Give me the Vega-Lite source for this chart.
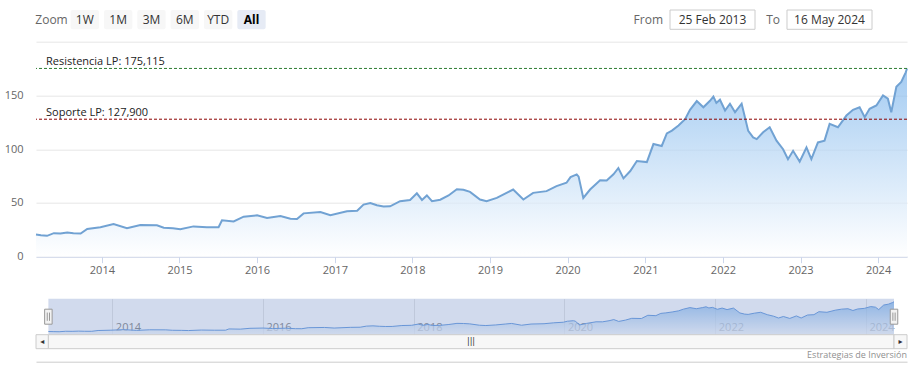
{
  "$schema": "https://vega.github.io/schema/vega-lite/v6.json",
  "padding": {"left": 4, "top": 9, "right": 7, "bottom": 5},
  "background": "white",
  "config": {"font": "Open Sans", "view": {"stroke": null}},
  "datasets": {
    "series": [
      {"date": "2013-02-25", "value": 20.6},
      {"date": "2013-03-20", "value": 20.0},
      {"date": "2013-04-18", "value": 19.4},
      {"date": "2013-05-20", "value": 21.9},
      {"date": "2013-06-20", "value": 21.5},
      {"date": "2013-07-22", "value": 22.6},
      {"date": "2013-08-20", "value": 21.8},
      {"date": "2013-09-23", "value": 21.6},
      {"date": "2013-10-24", "value": 25.8},
      {"date": "2013-12-25", "value": 27.4},
      {"date": "2014-02-25", "value": 30.3},
      {"date": "2014-04-29", "value": 26.4},
      {"date": "2014-07-01", "value": 29.5},
      {"date": "2014-09-17", "value": 29.2},
      {"date": "2014-10-19", "value": 27.0},
      {"date": "2014-12-01", "value": 26.5},
      {"date": "2015-01-05", "value": 25.5},
      {"date": "2015-03-08", "value": 28.2},
      {"date": "2015-05-10", "value": 27.3},
      {"date": "2015-07-04", "value": 27.4},
      {"date": "2015-07-20", "value": 33.9},
      {"date": "2015-09-13", "value": 32.8},
      {"date": "2015-10-30", "value": 37.2},
      {"date": "2016-01-01", "value": 38.5},
      {"date": "2016-02-17", "value": 36.0},
      {"date": "2016-04-20", "value": 37.8},
      {"date": "2016-06-06", "value": 35.3},
      {"date": "2016-07-07", "value": 35.0},
      {"date": "2016-08-07", "value": 40.3},
      {"date": "2016-10-25", "value": 41.6},
      {"date": "2016-12-11", "value": 38.5},
      {"date": "2017-02-27", "value": 42.2},
      {"date": "2017-04-16", "value": 42.8},
      {"date": "2017-05-16", "value": 48.5},
      {"date": "2017-06-17", "value": 50.0},
      {"date": "2017-07-18", "value": 47.8},
      {"date": "2017-08-18", "value": 46.6},
      {"date": "2017-09-18", "value": 46.9},
      {"date": "2017-11-04", "value": 51.6},
      {"date": "2017-12-21", "value": 52.8},
      {"date": "2018-01-22", "value": 59.0},
      {"date": "2018-02-15", "value": 52.8},
      {"date": "2018-03-10", "value": 57.0},
      {"date": "2018-04-03", "value": 51.6},
      {"date": "2018-05-12", "value": 53.0},
      {"date": "2018-06-20", "value": 57.0},
      {"date": "2018-07-29", "value": 62.8},
      {"date": "2018-08-29", "value": 62.2},
      {"date": "2018-09-29", "value": 60.3},
      {"date": "2018-11-15", "value": 53.2},
      {"date": "2018-12-16", "value": 51.6},
      {"date": "2019-02-02", "value": 54.7},
      {"date": "2019-03-20", "value": 59.4},
      {"date": "2019-04-20", "value": 62.5},
      {"date": "2019-06-07", "value": 53.2},
      {"date": "2019-07-23", "value": 59.4},
      {"date": "2019-09-24", "value": 61.0},
      {"date": "2019-11-10", "value": 65.7},
      {"date": "2019-12-27", "value": 68.8},
      {"date": "2020-01-15", "value": 74.0},
      {"date": "2020-02-13", "value": 76.6},
      {"date": "2020-02-22", "value": 74.5},
      {"date": "2020-03-15", "value": 54.7},
      {"date": "2020-04-16", "value": 62.5},
      {"date": "2020-06-02", "value": 71.0},
      {"date": "2020-07-03", "value": 70.8},
      {"date": "2020-08-04", "value": 76.6},
      {"date": "2020-08-27", "value": 82.5},
      {"date": "2020-09-20", "value": 72.9},
      {"date": "2020-10-22", "value": 79.7},
      {"date": "2020-11-22", "value": 89.0},
      {"date": "2021-01-08", "value": 88.0},
      {"date": "2021-02-08", "value": 104.8},
      {"date": "2021-03-19", "value": 103.0},
      {"date": "2021-04-12", "value": 114.7},
      {"date": "2021-05-06", "value": 117.3},
      {"date": "2021-06-06", "value": 122.0},
      {"date": "2021-07-07", "value": 128.0},
      {"date": "2021-07-30", "value": 136.6},
      {"date": "2021-08-31", "value": 144.8},
      {"date": "2021-10-01", "value": 139.0},
      {"date": "2021-11-01", "value": 145.0},
      {"date": "2021-11-17", "value": 149.0},
      {"date": "2021-12-01", "value": 143.0},
      {"date": "2021-12-18", "value": 146.0},
      {"date": "2022-01-11", "value": 136.0},
      {"date": "2022-02-03", "value": 142.3},
      {"date": "2022-02-27", "value": 134.4},
      {"date": "2022-03-30", "value": 142.3},
      {"date": "2022-04-30", "value": 117.0},
      {"date": "2022-05-23", "value": 111.0},
      {"date": "2022-06-09", "value": 109.4},
      {"date": "2022-07-09", "value": 115.7},
      {"date": "2022-08-09", "value": 120.4},
      {"date": "2022-09-10", "value": 108.0},
      {"date": "2022-10-11", "value": 100.0},
      {"date": "2022-11-03", "value": 90.7},
      {"date": "2022-11-27", "value": 98.5},
      {"date": "2022-12-28", "value": 88.5},
      {"date": "2023-01-29", "value": 101.6},
      {"date": "2023-02-21", "value": 90.7},
      {"date": "2023-03-24", "value": 106.3},
      {"date": "2023-04-24", "value": 108.0},
      {"date": "2023-05-18", "value": 123.5},
      {"date": "2023-06-26", "value": 120.4},
      {"date": "2023-08-05", "value": 131.3},
      {"date": "2023-09-05", "value": 136.7},
      {"date": "2023-10-06", "value": 139.0},
      {"date": "2023-10-30", "value": 129.7},
      {"date": "2023-11-22", "value": 137.6},
      {"date": "2023-12-24", "value": 140.7},
      {"date": "2024-01-24", "value": 150.0},
      {"date": "2024-02-16", "value": 147.0},
      {"date": "2024-03-03", "value": 134.4},
      {"date": "2024-03-27", "value": 158.0},
      {"date": "2024-04-19", "value": 162.6},
      {"date": "2024-05-10", "value": 171.5},
      {"date": "2024-05-16", "value": 175.1}
    ],
    "buttons": [
      {"label": "Zoom", "kind": "label"},
      {"label": "1W", "kind": "button"},
      {"label": "1M", "kind": "button"},
      {"label": "3M", "kind": "button"},
      {"label": "6M", "kind": "button"},
      {"label": "YTD", "kind": "button"},
      {"label": "All", "kind": "selected"}
    ],
    "ranges": [
      {"label": "From", "value": "25 Feb 2013"},
      {"label": "To", "value": "16 May 2024"}
    ],
    "plotlines": [
      {"label": "Resistencia LP: 175,115", "value": 175.115, "kind": "res"},
      {"label": "Soporte LP: 127,900", "value": 127.9, "kind": "sop"}
    ],
    "scroll": [
      {"part": "button", "start": "2012-12-27", "end": "2013-02-25", "mid": "2013-01-26", "symbol": "◂"},
      {"part": "thumb", "start": "2013-02-25", "end": "2024-05-16", "mid": "2018-10-05", "symbol": "|||"},
      {"part": "button", "start": "2024-05-16", "end": "2024-07-18", "mid": "2024-06-17", "symbol": "▸"}
    ],
    "handles": [
      {"date": "2013-02-25"},
      {"date": "2024-05-16"}
    ]
  },
  "bounds": "full",
  "spacing": 11.7,
  "vconcat": [
    {
      "bounds": "flush",
      "spacing": 403,
      "hconcat": [
        {
          "width": 231,
          "height": 19.3,
          "data": {"name": "buttons"},
          "encoding": {
            "x": {"field": "label", "type": "nominal", "scale": {"domain": ["Zoom", "1W", "1M", "3M", "6M", "YTD", "All"], "paddingInner": 0.15, "paddingOuter": 0.04}, "axis": null}
          },
          "layer": [
            {
              "transform": [{"filter": "datum.kind != 'label'"}],
              "mark": {"type": "rect", "cornerRadius": 2},
              "encoding": {"color": {"field": "kind", "type": "nominal", "scale": {"domain": ["button", "selected"], "range": ["#f7f7f7", "#e6ebf5"]}, "legend": null}}
            },
            {
              "transform": [{"filter": "datum.kind == 'label'"}],
              "mark": {"type": "text", "fontSize": 12, "fill": "#666666"},
              "encoding": {"text": {"field": "label"}}
            },
            {
              "transform": [{"filter": "datum.kind == 'button'"}],
              "mark": {"type": "text", "fontSize": 12, "fill": "#333333"},
              "encoding": {"text": {"field": "label"}}
            },
            {
              "transform": [{"filter": "datum.kind == 'selected'"}],
              "mark": {"type": "text", "fontSize": 12, "fill": "#000000", "fontWeight": "bold", "font": "Noto Sans"},
              "encoding": {"text": {"field": "label"}}
            }
          ]
        },
        {
          "width": 202,
          "height": 19.3,
          "data": {"name": "ranges"},
          "encoding": {
            "x": {"field": "value", "type": "nominal", "scale": {"domain": ["25 Feb 2013", "16 May 2024"], "paddingInner": 0.2735, "paddingOuter": 0}, "axis": null}
          },
          "layer": [
            {"mark": {"type": "rect", "fill": "#ffffff", "stroke": "#cccccc", "strokeWidth": 1}},
            {"mark": {"type": "text", "fontSize": 12, "fill": "#333333"}, "encoding": {"text": {"field": "value"}}},
            {
              "mark": {"type": "text", "fontSize": 12, "fill": "#666666", "align": "right", "dx": -7},
              "encoding": {"x": {"field": "value", "type": "nominal", "bandPosition": 0}, "text": {"field": "label"}}
            }
          ]
        }
      ]
    },
    {
      "bounds": "flush",
      "spacing": 42,
      "vconcat": [
        {
          "width": 871,
          "height": 215,
          "layer": [
            {
              "data": {"name": "series"},
              "mark": {
                "type": "area",
                "fill": {"x1": 0, "y1": 0, "x2": 0, "y2": 1, "gradient": "linear", "stops": [{"offset": 0, "color": "#7cb5ec"}, {"offset": 1, "color": "#ffffff"}]},
                "line": {"color": "#71a2d3", "strokeWidth": 2}
              },
              "encoding": {
                "x": {
                  "field": "date", "type": "temporal",
                  "scale": {"domain": ["2013-02-25", "2024-05-16"]},
                  "axis": {
                    "values": [{"year": 2014}, {"year": 2015}, {"year": 2016}, {"year": 2017}, {"year": 2018}, {"year": 2019}, {"year": 2020}, {"year": 2021}, {"year": 2022}, {"year": 2023}, {"year": 2024}],
                    "format": "%Y", "title": null, "grid": false,
                    "domainColor": "#ccd6eb", "tickColor": "#ccd6eb", "tickSize": 6,
                    "labelColor": "#666666", "labelFontSize": 11, "labelPadding": 2, "labelFlush": false
                  }
                },
                "y": {
                  "field": "value", "type": "quantitative",
                  "scale": {"domain": [0, 200], "nice": false},
                  "axis": {
                    "values": [0, 50, 100, 150, 200],
                    "labelExpr": "datum.value == 200 ? '' : datum.label",
                    "title": null, "domain": false, "ticks": false, "grid": true, "gridColor": "#e6e6e6",
                    "labelColor": "#666666", "labelFontSize": 11, "labelPadding": 13
                  }
                }
              }
            },
            {
              "data": {"name": "plotlines"},
              "transform": [{"filter": "datum.kind == 'res'"}],
              "mark": {"type": "rule", "strokeDash": [3, 2], "strokeWidth": 1, "stroke": "#2e7d32", "opacity": 1},
              "encoding": {"y": {"field": "value", "type": "quantitative"}}
            },
            {
              "data": {"name": "plotlines"},
              "transform": [{"filter": "datum.kind == 'sop'"}],
              "mark": {"type": "rule", "strokeDash": [3, 2], "strokeWidth": 1, "stroke": "#8b0000", "opacity": 1},
              "encoding": {"y": {"field": "value", "type": "quantitative"}}
            },
            {
              "data": {"name": "plotlines"},
              "mark": {"type": "text", "align": "left", "baseline": "alphabetic", "dx": 10, "dy": -3.5, "fontSize": 11, "fill": "#222222"},
              "encoding": {
                "x": {"datum": {"year": 2013, "month": 2, "date": 25}, "type": "temporal"},
                "y": {"field": "value", "type": "quantitative"},
                "text": {"field": "label"}
              }
            }
          ]
        },
        {
          "bounds": "flush",
          "spacing": 0,
          "vconcat": [
            {
              "width": 871,
              "height": 36,
              "layer": [
                {
                  "data": {"name": "series"},
                  "mark": {
                    "type": "area",
                    "fill": {"x1": 0, "y1": 0, "x2": 0, "y2": 1, "gradient": "linear", "stops": [{"offset": 0, "color": "#7cb5ec"}, {"offset": 1, "color": "#ffffff"}]},
                    "line": {"color": "#6a9ee0", "strokeWidth": 1}
                  },
                  "encoding": {
                    "x": {
                      "field": "date", "type": "temporal",
                      "scale": {"domain": ["2012-12-27", "2024-07-18"]},
                      "axis": {
                        "values": [{"year": 2014}, {"year": 2016}, {"year": 2018}, {"year": 2020}, {"year": 2022}, {"year": 2024}],
                        "format": "%Y", "title": null, "grid": true, "gridColor": "#e6e6e6",
                        "domain": false, "ticks": false,
                        "labelAlign": "left", "labelBaseline": "middle", "labelPadding": -7, "labelOffset": 3,
                        "labelColor": "#8a8a8a", "labelFontSize": 11, "labelFlush": false
                      }
                    },
                    "y": {"field": "value", "type": "quantitative", "scale": {"domain": [4, 191], "zero": false, "nice": false}, "axis": null}
                  }
                },
                {
                  "data": {"name": "scroll"},
                  "transform": [{"filter": "datum.part == 'thumb'"}],
                  "mark": {"type": "rect", "fill": "#6685c2", "fillOpacity": 0.3},
                  "encoding": {"x": {"field": "start", "type": "temporal"}, "x2": {"field": "end"}}
                },
                {
                  "data": {"name": "handles"},
                  "mark": {
                    "type": "point",
                    "shape": "M-0.5,-1H0.5V1H-0.5Z M-0.15,-0.55V0.55 M0.15,-0.55V0.55",
                    "size": 225, "filled": false, "fill": "#f2f2f2", "fillOpacity": 1, "stroke": "#999999", "strokeWidth": 1, "opacity": 1
                  },
                  "encoding": {"x": {"field": "date", "type": "temporal"}}
                }
              ]
            },
            {
              "width": 871,
              "height": 14,
              "data": {"name": "scroll"},
              "layer": [
                {
                  "mark": {"type": "rect", "stroke": "#cccccc", "strokeWidth": 1},
                  "encoding": {
                    "x": {"field": "start", "type": "temporal", "scale": {"domain": ["2012-12-27", "2024-07-18"]}, "axis": null},
                    "x2": {"field": "end"},
                    "color": {"field": "part", "type": "nominal", "scale": {"domain": ["button", "thumb"], "range": ["#f2f2f2", "#cccccc"]}, "legend": null}
                  }
                },
                {
                  "mark": {"type": "text", "fontSize": 8, "fill": "#333333", "font": "DejaVu Sans"},
                  "encoding": {"x": {"field": "mid", "type": "temporal"}, "text": {"field": "symbol"}}
                }
              ]
            },
            {
              "width": 871,
              "height": 13,
              "data": {"values": [{"date": "2024-07-18", "label": "Estrategias de Inversión"}]},
              "mark": {"type": "text", "align": "right", "baseline": "middle", "fontSize": 9, "fill": "#909090"},
              "encoding": {
                "x": {
                  "field": "date", "type": "temporal",
                  "scale": {"domain": ["2012-12-27", "2024-07-18"]},
                  "axis": {"domain": true, "domainColor": "#cccccc", "ticks": false, "labels": false, "grid": false, "title": null}
                },
                "text": {"field": "label"}
              }
            }
          ]
        }
      ]
    }
  ]
}
